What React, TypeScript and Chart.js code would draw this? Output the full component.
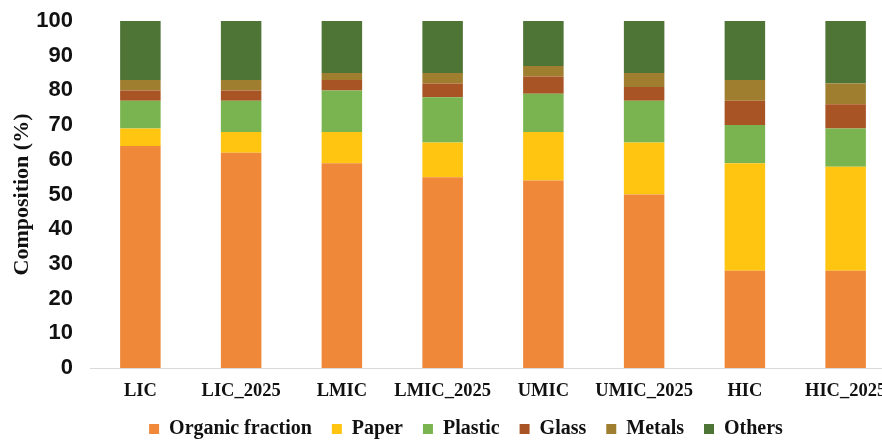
import React, { useEffect, useRef } from "react";
import { Chart, registerables } from "chart.js";

Chart.register(...registerables);

// Income groups (current and 2025 projection)
const categories = ["LIC", "LIC_2025", "LMIC", "LMIC_2025", "UMIC", "UMIC_2025", "HIC", "HIC_2025"];

// Waste composition, % by component
const organicFraction = [64, 62, 59, 55, 54, 50, 28, 28];
const paper = [5, 6, 9, 10, 14, 15, 31, 30];
const plastic = [8, 9, 12, 13, 11, 12, 11, 11];
const glass = [3, 3, 3, 4, 5, 4, 7, 7];
const metals = [3, 3, 2, 3, 3, 4, 6, 6];
const others = [17, 17, 15, 15, 13, 15, 17, 18];

const seriesNames = ["Organic fraction", "Paper", "Plastic", "Glass", "Metals", "Others"];
const seriesValues = [organicFraction, paper, plastic, glass, metals, others];
const seriesColors = ["#F0883A", "#FFC511", "#7AB450", "#A85424", "#A07E2F", "#4E7436"];

const SERIF = "'Liberation Serif', 'Times New Roman', serif";
const SANS = "'Liberation Sans', Arial, sans-serif";

export default function App() {
  const canvasRef = useRef<HTMLCanvasElement | null>(null);

  useEffect(() => {
    if (!canvasRef.current) return;
    const chart = new Chart(canvasRef.current, {
      type: "bar",
      data: {
        labels: categories,
        datasets: seriesNames.map((name, i) => ({
          label: name,
          data: seriesValues[i],
          backgroundColor: seriesColors[i],
          borderWidth: 0,
          barPercentage: 0.402,
          categoryPercentage: 1,
        })),
      },
      options: {
        responsive: false,
        animation: false,
        devicePixelRatio: 1,
        layout: { padding: { top: 21, left: 0, right: 0, bottom: 0 } },
        plugins: {
          tooltip: { enabled: false },
          legend: {
            position: "bottom",
            align: "center",
            maxHeight: 42,
            labels: {
              boxWidth: 10,
              boxHeight: 10,
              padding: 20,
              color: "#111",
              font: { family: SERIF, size: 20, weight: "bold" },
            },
          },
        },
        scales: {
          x: {
            stacked: true,
            grid: { display: false, drawTicks: false },
            border: { display: true, color: "#D9D9D9", width: 1 },
            ticks: {
              color: "#111",
              padding: 12,
              maxRotation: 0,
              autoSkip: false,
              font: { family: SERIF, size: 18.5, weight: "bold" },
            },
            afterFit: (s: any) => {
              s.height = 31;
            },
          },
          y: {
            stacked: true,
            min: 0,
            max: 100,
            grid: { display: false, drawTicks: false },
            border: { display: false },
            ticks: {
              stepSize: 10,
              color: "#111",
              padding: 17,
              font: { family: SANS, size: 22, weight: "bold" },
            },
            title: {
              display: true,
              text: "Composition (%)",
              color: "#111",
              padding: { top: 9, bottom: 0 },
              font: { family: SERIF, size: 22, weight: "bold" },
            },
            afterFit: (s: any) => {
              s.width = 90;
              s.paddingTop = 0;
              s.paddingBottom = 0;
            },
          },
          // spacer on the right edge so the plot ends before the canvas does
          yRight: {
            type: "linear",
            position: "right",
            display: true,
            grid: { display: false, drawTicks: false },
            border: { display: false },
            ticks: { display: false },
            afterFit: (s: any) => {
              s.width = 36;
              s.paddingTop = 0;
              s.paddingBottom = 0;
            },
          },
        },
      },
    });
    return () => chart.destroy();
  }, []);

  return (
    <div
      style={{
        position: "fixed",
        left: 0,
        top: 0,
        width: 882,
        height: 441,
        overflow: "hidden",
        background: "#fff",
      }}
    >
      <canvas ref={canvasRef} width={932} height={441} style={{ display: "block" }} />
    </div>
  );
}
